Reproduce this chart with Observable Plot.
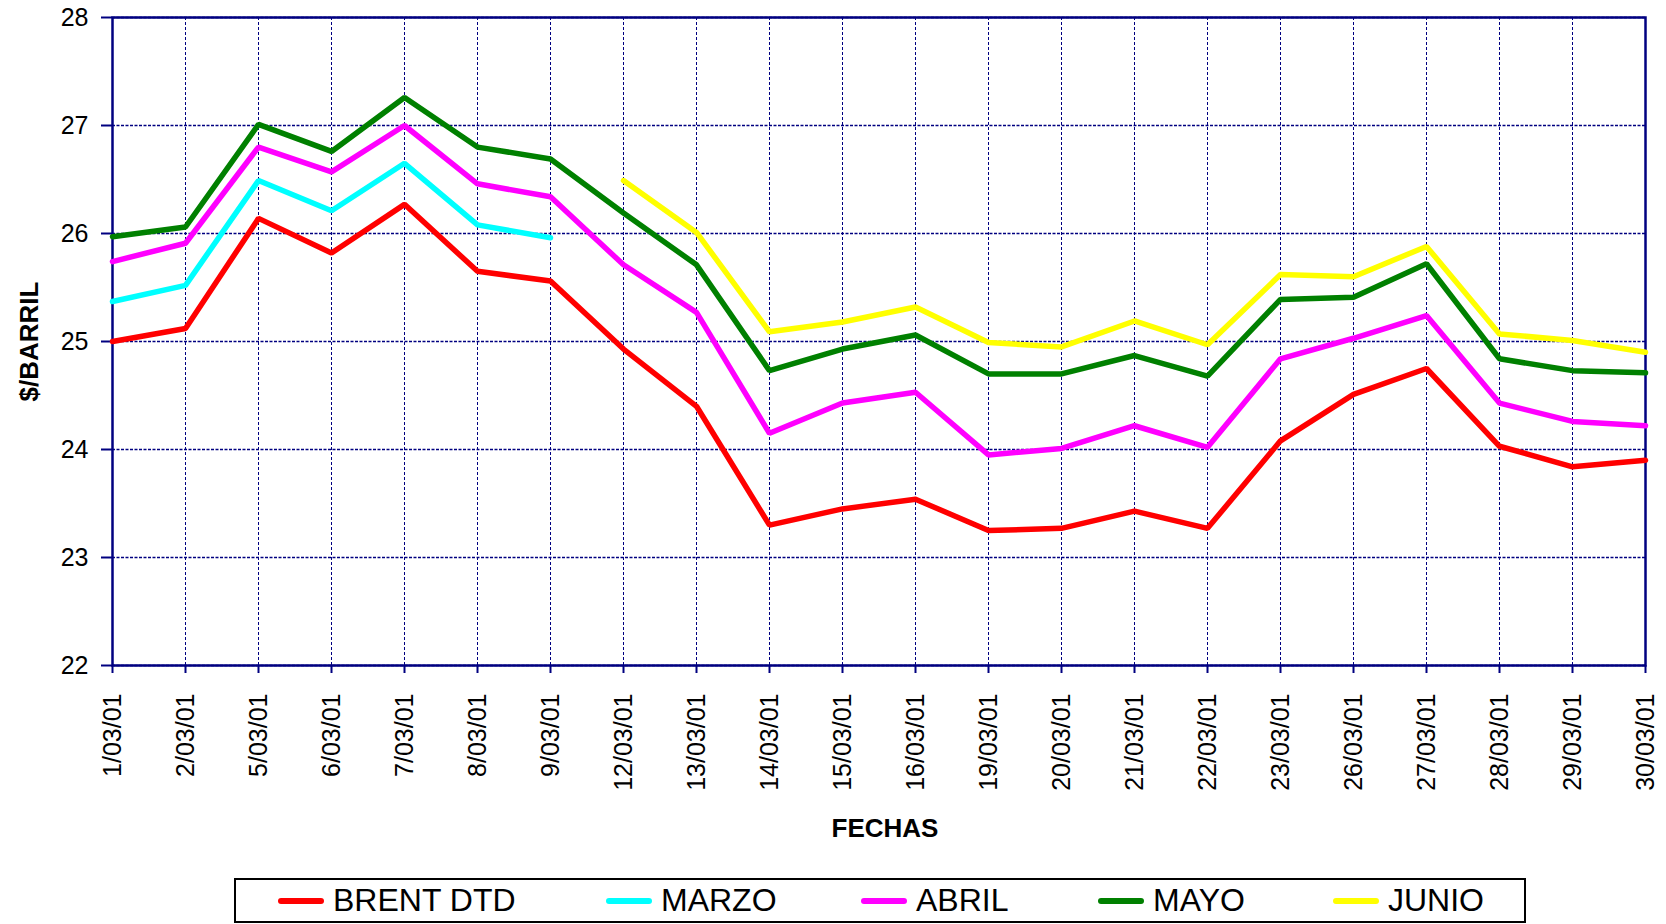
<!DOCTYPE html>
<html>
<head>
<meta charset="utf-8">
<script src="https://cdn.jsdelivr.net/npm/d3@7"></script>
<script src="https://cdn.jsdelivr.net/npm/@observablehq/plot@0.6"></script>
<style>
  html, body { margin: 0; padding: 0; background: #fff; }
  body { position: relative; width: 1666px; height: 924px; overflow: hidden; font-family: "Liberation Sans", Arial, sans-serif; }
  #legend { position: absolute; left: 234px; top: 878px; width: 1292px; height: 45px; border: 2px solid #000; box-sizing: border-box; }
  .item { position: absolute; top: 0; height: 41px; display: flex; align-items: center; font-size: 32px; color: #000; }
  .sw { width: 46px; height: 6px; border-radius: 3px; margin-right: 9px; }
</style>
</head>
<body>
<div id="chart"></div>
<div id="legend"></div>
<script>
const dates = ["1/03/01","2/03/01","5/03/01","6/03/01","7/03/01","8/03/01","9/03/01","12/03/01","13/03/01","14/03/01","15/03/01","16/03/01","19/03/01","20/03/01","21/03/01","22/03/01","23/03/01","26/03/01","27/03/01","28/03/01","29/03/01","30/03/01"];
const seriesNames = ["BRENT DTD", "MARZO", "ABRIL", "MAYO", "JUNIO"];
const seriesColors = ["#FF0000", "#00FFFF", "#FF00FF", "#008000", "#FFFF00"];
const brent = [25.00, 25.12, 26.14, 25.82, 26.27, 25.65, 25.56, 24.93, 24.40, 23.30, 23.45, 23.54, 23.25, 23.27, 23.43, 23.27, 24.08, 24.51, 24.75, 24.03, 23.84, 23.90];
const marzo = [25.37, 25.52, 26.49, 26.21, 26.65, 26.08, 25.96, null, null, null, null, null, null, null, null, null, null, null, null, null, null, null];
const abril = [25.74, 25.91, 26.80, 26.57, 27.00, 26.46, 26.34, 25.71, 25.27, 24.15, 24.43, 24.53, 23.95, 24.01, 24.22, 24.02, 24.84, 25.03, 25.24, 24.43, 24.26, 24.22];
const mayo = [25.97, 26.06, 27.01, 26.76, 27.26, 26.80, 26.69, 26.19, 25.71, 24.73, 24.93, 25.06, 24.70, 24.70, 24.87, 24.68, 25.39, 25.41, 25.72, 24.84, 24.73, 24.71];
const junio = [null, null, null, null, null, null, null, 26.49, 26.01, 25.09, 25.18, 25.32, 24.99, 24.95, 25.19, 24.97, 25.62, 25.60, 25.88, 25.07, 25.01, 24.90];
const yTicks = [22, 23, 24, 25, 26, 27, 28];
const xTitle = "FECHAS";
const yTitle = "$/BARRIL";

const seriesValues = [brent, marzo, abril, mayo, junio];
const data = [];
seriesNames.forEach((name, s) => {
  seriesValues[s].forEach((v, i) => data.push({series: name, date: dates[i], value: v}));
});

const navy = "#000080";
const chart = Plot.plot({
  width: 1666,
  height: 874,
  marginLeft: 112,
  marginRight: 21,
  marginTop: 17,
  marginBottom: 209,
  style: {fontFamily: "'Liberation Sans', Arial, sans-serif", color: "#000", background: "#fff"},
  x: {type: "point", domain: dates, padding: 0},
  y: {domain: [22, 28]},
  color: {domain: seriesNames, range: seriesColors},
  marks: [
    Plot.gridY({ticks: yTicks, stroke: navy, strokeOpacity: 1, strokeWidth: 1.5, strokeDasharray: "3,1.5"}),
    Plot.gridX({stroke: navy, strokeOpacity: 1, strokeWidth: 1, strokeDasharray: "3,2"}),
    Plot.axisY({ticks: yTicks, tickFormat: d => String(d), tickSize: 11, tickPadding: 13, fontSize: 25, stroke: navy, strokeWidth: 2, label: null}),
    Plot.axisX({tickRotate: -90, tickSize: 8, tickPadding: 20, fontSize: 25, stroke: navy, strokeWidth: 2, label: null}),
    Plot.frame({stroke: navy, strokeWidth: 2.5}),
    Plot.line(data, {x: "date", y: "value", z: "series", stroke: "series", strokeWidth: 5.5, strokeLinejoin: "miter", strokeLinecap: "round", defined: d => d.value != null}),
    Plot.text([xTitle], {frameAnchor: "bottom", lineAnchor: "middle", textAnchor: "middle", dx: 6, dy: 163, text: d => d, fontSize: 26, fontWeight: "bold", fill: "#000"}),
    Plot.text([yTitle], {frameAnchor: "left", textAnchor: "middle", lineAnchor: "middle", dx: -83, rotate: -90, text: d => d, fontSize: 26, fontWeight: "bold", fill: "#000"})
  ]
});
document.getElementById("chart").appendChild(chart);

const legendLefts = [278, 606, 861, 1098, 1333];
const legend = document.getElementById("legend");
seriesNames.forEach((name, i) => {
  const it = document.createElement("div");
  it.className = "item";
  it.style.left = (legendLefts[i] - 236) + "px";
  const sw = document.createElement("div");
  sw.className = "sw";
  sw.style.background = seriesColors[i];
  it.appendChild(sw);
  const t = document.createElement("span");
  t.textContent = name;
  it.appendChild(t);
  legend.appendChild(it);
});
</script>
</body>
</html>
